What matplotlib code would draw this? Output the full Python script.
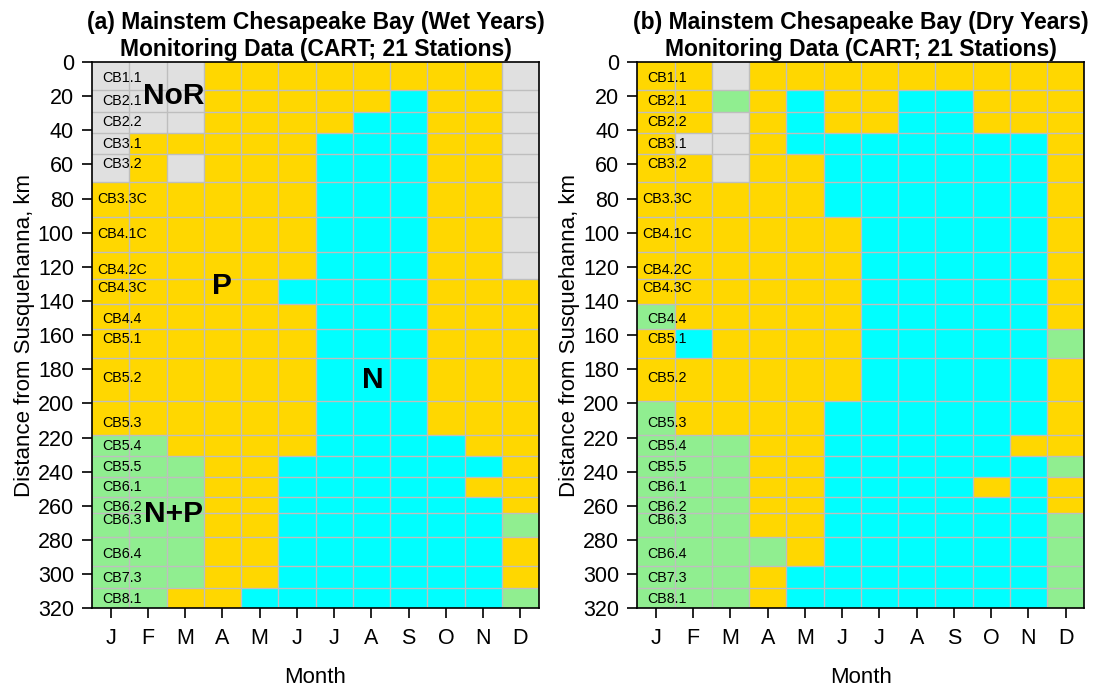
import numpy as np
import matplotlib
matplotlib.use("Agg")
import matplotlib.pyplot as plt
from matplotlib.colors import ListedColormap, BoundaryNorm

plt.rcParams['font.family'] = ['Liberation Sans', 'DejaVu Sans']

# ---- data ----
months = ['J', 'F', 'M', 'A', 'M', 'J', 'J', 'A', 'S', 'O', 'N', 'D']

stations = ['CB1.1', 'CB2.1', 'CB2.2', 'CB3.1', 'CB3.2', 'CB3.3C', 'CB4.1C',
            'CB4.2C', 'CB4.3C', 'CB4.4', 'CB5.1', 'CB5.2', 'CB5.3', 'CB5.4',
            'CB5.5', 'CB6.1', 'CB6.2', 'CB6.3', 'CB6.4', 'CB7.3', 'CB8.1']

# distance from Susquehanna (km)
station_km = [9.5, 23.0, 35.0, 48.0, 59.9, 80.3, 100.8, 121.9, 132.6, 150.6,
              162.3, 184.9, 211.7, 224.8, 237.2, 249.0, 260.5, 268.3, 288.4,
              302.1, 314.4]

# limiting nutrient per station x month
# X = NoR, P = phosphorus, N = nitrogen, B = N+P
wet_codes = ['XXXPPPPPPPPX', 'XXXPPPPPNPPX', 'XXXPPPPNNPPX', 'XPPPPPNNNPPX',
             'XPXPPPNNNPPX', 'PPPPPPNNNPPX', 'PPPPPPNNNPPX', 'PPPPPPNNNPPX',
             'PPPPPNNNNPPP', 'PPPPPPNNNPPP', 'PPPPPPNNNPPP', 'PPPPPPNNNPPP',
             'PPPPPPNNNPPP', 'BBPPPPNNNNPP', 'BBBPPNNNNNNP', 'BBBPPNNNNNPP',
             'BBBPPNNNNNNP', 'BBBPPNNNNNNB', 'BBBPPNNNNNNP', 'BBBPPNNNNNNP',
             'BBPPNNNNNNNB']

dry_codes = ['PPXPPPPPPPPP', 'PPBPNPPNNPPP', 'PPXPNPPNNPPP', 'PXXPNNNNNNNP',
             'PPXPPNNNNNNP', 'PPPPPNNNNNNP', 'PPPPPPNNNNNP', 'PPPPPPNNNNNP',
             'PPPPPPNNNNNP', 'BPPPPPNNNNNP', 'PNPPPPNNNNNB', 'PPPPPPNNNNNP',
             'BPPPPNNNNNNP', 'BBBPPNNNNNPP', 'BBBPPNNNNNNB', 'BBBPPNNNNPNP',
             'BBBPPNNNNNNP', 'BBBPPNNNNNNB', 'BBBBPNNNNNNB', 'BBBPNNNNNNNB',
             'BBBPNNNNNNNB']

class_order = ['X', 'P', 'N', 'B']
class_colors = ['#E0E0E0', '#FFD700', '#00FFFF', '#90EE90']

# region labels (text, month, km)
wet_regions = [('NoR', 2.7, 20), ('P', 4.0, 131), ('N', 8.05, 186), ('N+P', 2.7, 265)]

titles = ['(a) Mainstem Chesapeake Bay (Wet Years)\nMonitoring Data (CART; 21 Stations)',
          '(b) Mainstem Chesapeake Bay (Dry Years)\nMonitoring Data (CART; 21 Stations)']

# ---- plotting ----
km = np.array(station_km)
y_edges = np.concatenate([[0], (km[:-1] + km[1:]) / 2, [320]])
x_edges = np.arange(0.5, 13.5, 1)

cmap = ListedColormap(class_colors)
norm = BoundaryNorm(np.arange(-0.5, len(class_order) + 0.5), cmap.N)

fig = plt.figure(figsize=(10.95, 6.88), dpi=100)
W, H = 1095, 688
ax_w, ax_h = 447 / W, (608.3 - 62) / H
bottom = 1 - 608.3 / H
axes = [fig.add_axes([92 / W, bottom, ax_w, ax_h]),
        fig.add_axes([637.3 / W, bottom, ax_w, ax_h])]

for i, (ax, codes) in enumerate(zip(axes, [wet_codes, dry_codes])):
    grid = np.array([[class_order.index(c) for c in row] for row in codes])
    ax.pcolormesh(x_edges, y_edges, grid, cmap=cmap, norm=norm)

    for y in y_edges[1:-1]:
        ax.axhline(y, color='#BEBEBE', lw=1.0, zorder=2)
    for x in x_edges[1:-1]:
        ax.axvline(x, color='#BEBEBE', lw=1.0, zorder=2)

    for name, d in zip(stations, station_km):
        ax.text(1.3, d, name, ha='center', va='center', fontsize=10.3, zorder=3)

    ax.set_xlim(0.5, 12.5)
    ax.set_ylim(320, 0)
    ax.set_yticks(np.arange(0, 321, 20))
    ax.set_xticks(np.arange(1, 13))
    ax.set_xticklabels(months)
    ax.tick_params(axis='both', labelsize=15.5, length=7, width=1.2, direction='out')
    ax.tick_params(axis='x', pad=7)
    ax.tick_params(axis='y', pad=6)
    for sp in ax.spines.values():
        sp.set_linewidth(1.2)

    ax.set_title(titles[i], fontsize=16.5, fontweight='bold', pad=4, linespacing=1.25)
    ax.set_xlabel('Month', fontsize=16, labelpad=13)
    ax.set_ylabel('Distance from Susquehanna, km', fontsize=16, labelpad=2)

for txt, x, y in wet_regions:
    axes[0].text(x, y, txt, ha='center', va='center', fontsize=21.5,
                 fontweight='bold', zorder=4)

fig.savefig('out.png', dpi=100)
